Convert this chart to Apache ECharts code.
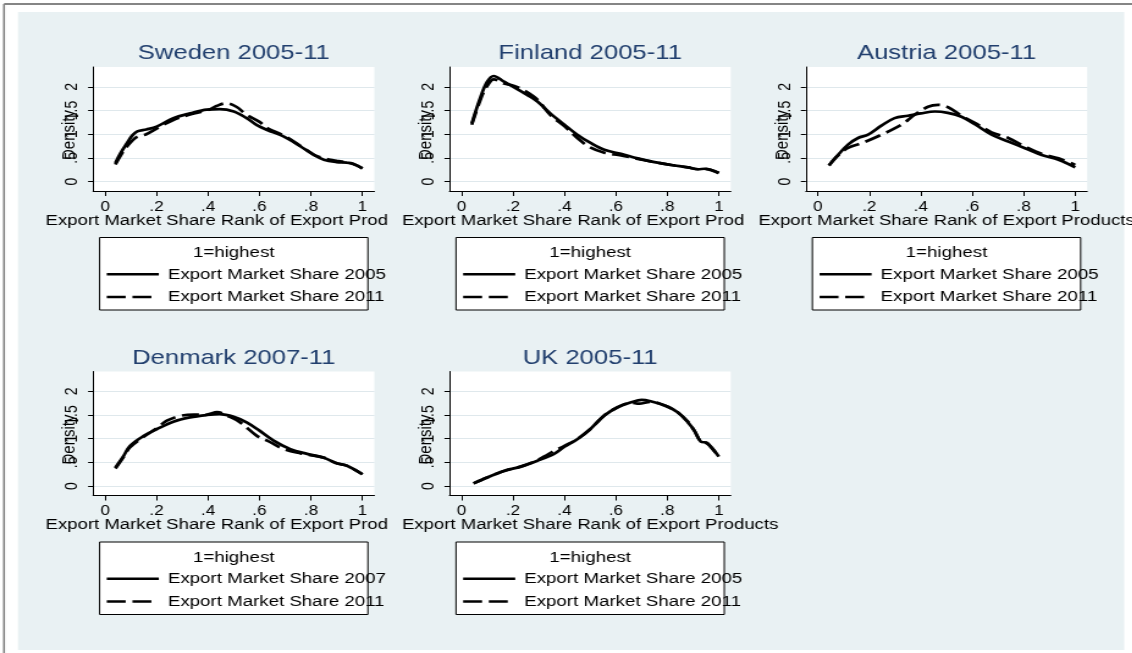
<!DOCTYPE html>
<html>
<head>
<meta charset="utf-8">
<script src="https://cdn.jsdelivr.net/npm/echarts@6/dist/echarts.min.js"></script>
<style>
html,body{margin:0;padding:0;background:#fff;overflow:hidden;width:1132px;height:653px}
#c{position:absolute;left:0;top:0;height:653px;transform-origin:0 0}
</style>
</head>
<body>
<div id="c"></div>
<script>
// ---------------- data ----------------
const X_TICKS = [0, 0.2, 0.4, 0.6, 0.8, 1];
const X_TICK_LABELS = ['0', '.2', '.4', '.6', '.8', '1'];
const Y_TICKS = [0, 0.5, 1, 1.5, 2];
const Y_TICK_LABELS = ['0', '.5', '1', '1.5', '2'];
const X_TITLE = 'Export Market Share Rank of Export Products';
const Y_TITLE = 'Density';
const LEGEND_TITLE = '1=highest';
const PANEL_TITLES = ['Sweden 2005-11', 'Finland 2005-11', 'Austria 2005-11', 'Denmark 2007-11', 'UK 2005-11'];
const FIRST_YEAR_NAMES = ['Export Market Share 2005', 'Export Market Share 2005', 'Export Market Share 2005', 'Export Market Share 2007', 'Export Market Share 2005'];
const LAST_YEAR_NAMES = ['Export Market Share 2011', 'Export Market Share 2011', 'Export Market Share 2011', 'Export Market Share 2011', 'Export Market Share 2011'];

const sweden2005 = [[0.04,0.39],[0.06,0.6],[0.085,0.81],[0.105,0.97],[0.125,1.06],[0.16,1.1],[0.2,1.16],[0.265,1.34],[0.33,1.44],[0.395,1.52],[0.445,1.53],[0.5,1.48],[0.55,1.34],[0.59,1.19],[0.63,1.09],[0.695,0.95],[0.76,0.74],[0.81,0.57],[0.85,0.46],[0.9,0.41],[0.94,0.4],[0.965,0.37],[1.0,0.28]];
const sweden2011 = [[0.04,0.36],[0.06,0.55],[0.085,0.74],[0.12,0.93],[0.16,1.0],[0.2,1.12],[0.265,1.3],[0.345,1.44],[0.395,1.5],[0.435,1.6],[0.47,1.655],[0.51,1.58],[0.55,1.41],[0.6,1.26],[0.63,1.13],[0.695,0.97],[0.76,0.75],[0.81,0.57],[0.85,0.49],[0.9,0.44],[0.94,0.4],[0.965,0.37],[1.0,0.28]];
const finland2005 = [[0.04,1.23],[0.075,1.8],[0.1,2.11],[0.125,2.23],[0.165,2.11],[0.205,1.99],[0.255,1.83],[0.295,1.69],[0.345,1.44],[0.4,1.2],[0.45,0.99],[0.5,0.82],[0.555,0.67],[0.62,0.585],[0.685,0.49],[0.75,0.41],[0.815,0.35],[0.88,0.3],[0.92,0.26],[0.945,0.27],[1.0,0.18]];
const finland2011 = [[0.04,1.2],[0.075,1.75],[0.1,2.02],[0.125,2.16],[0.165,2.07],[0.205,2.02],[0.245,1.92],[0.295,1.73],[0.345,1.41],[0.4,1.17],[0.45,0.92],[0.5,0.72],[0.555,0.61],[0.62,0.55],[0.685,0.48],[0.75,0.41],[0.815,0.35],[0.88,0.3],[0.92,0.26],[0.945,0.27],[1.0,0.18]];
const austria2005 = [[0.043,0.34],[0.078,0.56],[0.117,0.78],[0.156,0.92],[0.195,0.99],[0.247,1.18],[0.298,1.34],[0.35,1.39],[0.4,1.44],[0.455,1.48],[0.505,1.45],[0.558,1.37],[0.61,1.21],[0.675,0.99],[0.74,0.845],[0.805,0.705],[0.87,0.56],[0.935,0.46],[1.0,0.3]];
const austria2011 = [[0.043,0.34],[0.078,0.55],[0.117,0.71],[0.17,0.81],[0.247,0.99],[0.325,1.2],[0.376,1.41],[0.428,1.58],[0.467,1.62],[0.506,1.57],[0.558,1.39],[0.61,1.24],[0.675,1.04],[0.74,0.92],[0.805,0.74],[0.87,0.585],[0.935,0.49],[1.0,0.35]];
const denmark2007 = [[0.04,0.39],[0.07,0.62],[0.097,0.85],[0.15,1.06],[0.2,1.2],[0.265,1.36],[0.33,1.45],[0.395,1.5],[0.445,1.52],[0.5,1.465],[0.55,1.345],[0.6,1.17],[0.655,0.96],[0.72,0.78],[0.785,0.68],[0.85,0.6],[0.9,0.48],[0.94,0.43],[1.0,0.25]];
const denmark2011 = [[0.04,0.37],[0.07,0.6],[0.097,0.82],[0.15,1.04],[0.2,1.22],[0.24,1.38],[0.29,1.48],[0.345,1.51],[0.395,1.51],[0.435,1.56],[0.485,1.46],[0.525,1.345],[0.59,1.06],[0.63,0.96],[0.695,0.78],[0.76,0.69],[0.85,0.6],[0.9,0.48],[0.94,0.43],[1.0,0.25]];
const uk2005 = [[0.047,0.055],[0.1,0.18],[0.165,0.32],[0.23,0.41],[0.295,0.535],[0.36,0.68],[0.4,0.83],[0.45,0.99],[0.5,1.2],[0.555,1.49],[0.605,1.66],[0.66,1.77],[0.7,1.82],[0.735,1.79],[0.79,1.7],[0.84,1.56],[0.88,1.345],[0.905,1.17],[0.93,0.94],[0.955,0.91],[1.0,0.62]];
const uk2011 = [[0.047,0.055],[0.1,0.18],[0.165,0.32],[0.23,0.41],[0.28,0.51],[0.32,0.62],[0.36,0.74],[0.4,0.85],[0.45,0.99],[0.5,1.2],[0.555,1.49],[0.605,1.66],[0.66,1.76],[0.69,1.74],[0.735,1.78],[0.79,1.7],[0.84,1.56],[0.88,1.36],[0.905,1.17],[0.93,0.94],[0.955,0.9],[1.0,0.62]];

const FIRST_YEAR = [sweden2005, finland2005, austria2005, denmark2007, uk2005];
const LAST_YEAR = [sweden2011, finland2011, austria2011, denmark2011, uk2011];

// ---------------- layout (pixels of the reference) ----------------
const S = 1.22;                 // horizontal stretch of the original picture
const H = v => v / S;            // horizontal reference pixel -> unscaled pixel
const FONT = '"Liberation Sans", Arial, Helvetica, sans-serif';
const BG = '#e9f1f3';
const TITLE_COLOR = '#213f6e';
const PW = 281, PH = 124;
const NAME_SIZE = 15.2;
const DASH = [14, 5.5];
const LEGEND_DASH = [15.5, 5.5, 15.5, 40];
const LAYOUT = [
  {left: 93,  top: 67,    clipRight: true,  z: 1},
  {left: 449, top: 67,    clipRight: true,  z: 3},
  {left: 805, top: 67,    clipRight: false, z: 5},
  {left: 93,  top: 371.5, clipRight: true,  z: 1},
  {left: 449, top: 371.5, clipRight: false, z: 3}
];

// width of the axis title, to find where the neighbouring cell hides it
const ctx = document.createElement('canvas').getContext('2d');
ctx.font = NAME_SIZE + 'px "Liberation Sans"';
const fullW = ctx.measureText(X_TITLE).width;
const keptW = ctx.measureText(X_TITLE.slice(0, X_TITLE.length - 4)).width;

const el = document.getElementById('c');
el.style.width = (1132 / S) + 'px';
el.style.transform = 'scaleX(' + S + ')';
const chart = echarts.init(el, null, {renderer: 'canvas', width: 1132 / S, height: 653});

const grid = [], xAxis = [], yAxis = [], series = [], legend = [], title = [];
const graphic = [
  {type: 'rect', z: -1, shape: {x: H(18), y: 12, width: H(1123 - 18), height: 650 - 12}, style: {fill: BG}},
  {type: 'line', z: -1, shape: {x1: H(4), y1: 4, x2: H(1132), y2: 4}, style: {stroke: '#858585', lineWidth: 2}},
  {type: 'line', z: -1, shape: {x1: H(4), y1: 4, x2: H(4), y2: 653}, style: {stroke: '#858585', lineWidth: 2 / S}}
];

LAYOUT.forEach((L, i) => {
  const cx = L.left + PW / 2;
  grid.push({left: H(L.left), top: L.top, width: H(PW), height: PH, show: true,
    backgroundColor: '#ffffff', borderWidth: 0, containLabel: false, outerBoundsMode: 'none'});
  xAxis.push({
    type: 'value', gridIndex: i, min: -0.0467, max: 1.0467, z: L.z,
    name: X_TITLE, nameLocation: 'middle', nameGap: 22, nameMoveOverlap: false,
    nameTextStyle: {fontSize: NAME_SIZE, color: '#000', fontFamily: FONT},
    axisLine: {show: true, onZero: false, lineStyle: {color: '#000', width: 1}},
    axisTick: {show: true, length: 5, customValues: X_TICKS, lineStyle: {color: '#000', width: 1}},
    axisLabel: {show: true, customValues: X_TICKS, margin: 9, fontSize: 14, color: '#000', fontFamily: FONT,
      formatter: v => X_TICK_LABELS[X_TICKS.findIndex(t => Math.abs(t - v) < 1e-9)]},
    splitLine: {show: false}
  });
  yAxis.push({
    type: 'value', gridIndex: i, min: -0.2, max: 2.42, z: L.z,
    name: Y_TITLE, nameLocation: 'middle', nameGap: H(14), nameRotate: 90, nameMoveOverlap: false,
    nameTextStyle: {fontSize: 15, color: '#000', fontFamily: FONT, padding: [0, 12, 0, 0]},
    axisLine: {show: true, onZero: false, lineStyle: {color: '#000', width: 1}},
    axisTick: {show: true, length: H(5), customValues: Y_TICKS, lineStyle: {color: '#000', width: 1}},
    axisLabel: {show: true, customValues: Y_TICKS, rotate: 90, margin: H(12), fontSize: 14, color: '#000', fontFamily: FONT,
      formatter: v => Y_TICK_LABELS[Y_TICKS.findIndex(t => Math.abs(t - v) < 1e-9)]},
    splitLine: {show: true, lineStyle: {color: '#dfe8ec', width: 1}}
  });
  series.push({type: 'line', name: FIRST_YEAR_NAMES[i], xAxisIndex: i, yAxisIndex: i, data: FIRST_YEAR[i],
    symbol: 'none', showSymbol: false, smooth: 0.35, z: 10, silent: true,
    lineStyle: {color: '#000', width: 2.7, type: 'solid'}, itemStyle: {color: '#000'}});
  series.push({type: 'line', name: LAST_YEAR_NAMES[i], xAxisIndex: i, yAxisIndex: i, data: LAST_YEAR[i],
    symbol: 'none', showSymbol: false, smooth: 0.35, z: 10, silent: true,
    lineStyle: {color: '#000', width: 2.7, type: DASH}, itemStyle: {color: '#000'}});
  title.push({text: PANEL_TITLES[i], left: H(cx), top: L.top - 13.5, textAlign: 'center', textVerticalAlign: 'middle', padding: 0,
    textStyle: {fontSize: 21, fontWeight: 'normal', color: TITLE_COLOR, fontFamily: FONT}});
  title.push({text: LEGEND_TITLE, left: H(cx), top: L.top + 186, textAlign: 'center', textVerticalAlign: 'middle', padding: 0, z: 8,
    textStyle: {fontSize: 15.3, fontWeight: 'normal', color: '#000', fontFamily: FONT}});
  // legend frame (white box, black border) as in the original
  graphic.push({type: 'rect', z: 3, shape: {x: H(cx - 134), y: L.top + 170.5, width: H(268), height: 72.5},
    style: {fill: '#fff', stroke: '#000', lineWidth: 1}});
  legend.push({
    orient: 'vertical', left: H(cx - 134), top: L.top + 170.5, selectedMode: false, z: 6,
    data: [
      {name: FIRST_YEAR_NAMES[i]},
      {name: LAST_YEAR_NAMES[i], lineStyle: {type: LEGEND_DASH}}
    ],
    itemWidth: H(52), itemHeight: 14, itemGap: 2.7,
    padding: [26.8, 0, 3, H(5.7)],
    itemStyle: {color: 'rgba(0,0,0,0)', borderColor: 'rgba(0,0,0,0)', borderWidth: 0},
    lineStyle: {width: 2.4},
    textStyle: {fontSize: 15.3, color: '#000', fontFamily: FONT, lineHeight: 20, padding: [0, 0, 0, 2.4]}
  });
  if (L.clipRight) {
    // the next panel's cell background hides the overflowing axis title (as in the original)
    const cut = H(cx) - fullW / 2 + keptW - 0.3;
    graphic.push({type: 'rect', z: L.z + 1, shape: {x: cut, y: L.top + 143, width: H(50), height: 24}, style: {fill: BG}});
  }
});

chart.setOption({
  animation: false,
  backgroundColor: '#ffffff',
  textStyle: {fontFamily: FONT},
  graphic: graphic,
  title: title,
  legend: legend,
  grid: grid,
  xAxis: xAxis,
  yAxis: yAxis,
  series: series
});
</script>
</body>
</html>
